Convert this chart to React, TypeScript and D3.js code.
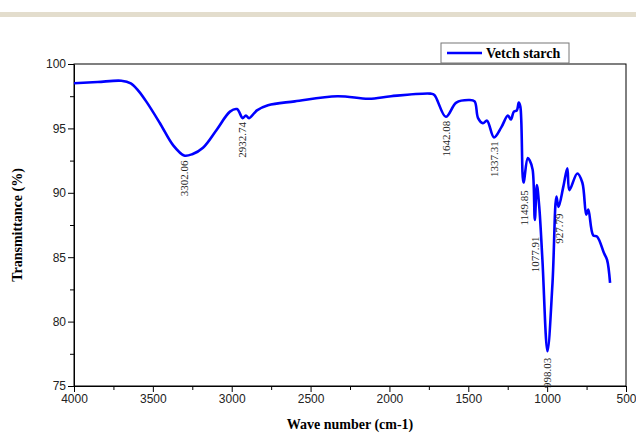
import React, { useEffect, useRef } from 'react';
import * as d3 from 'd3';

// FTIR spectrum (wave number, transmittance %)
const waveNumbers = [
  4000, 3850, 3700, 3640, 3590, 3537, 3455, 3372, 3302, 3250, 3182, 3095, 3011, 2967,
  2930, 2910, 2890, 2840, 2770, 2600, 2330, 2130, 1990, 1740, 1715, 1642, 1576, 1495,
  1460, 1438, 1407, 1381, 1337, 1290, 1249, 1230, 1211, 1192, 1180, 1170, 1150, 1123,
  1110, 1092, 1078, 1065, 1050, 1030, 998, 966, 941, 928, 897, 872, 859, 809, 777, 752,
  739, 708, 683, 639, 620, 601,
];
const transmittance = [
  98.5, 98.6, 98.7, 98.5, 97.9, 97.0, 95.4, 93.7, 92.9, 93.0, 93.5, 94.9, 96.3, 96.5,
  95.8, 96.0, 95.8, 96.4, 96.8, 97.1, 97.5, 97.3, 97.5, 97.7, 97.6, 95.9, 97.0, 97.2,
  97.1, 95.8, 95.4, 95.6, 94.3, 95.1, 96.0, 95.7, 96.3, 96.4, 97.0, 96.7, 90.8, 92.7,
  92.5, 91.8, 87.9, 90.6, 88.9, 84.8, 77.7, 83.0, 89.7, 88.9, 90.5, 91.9, 90.2, 91.5, 90.8, 88.3,
  88.7, 86.7, 86.6, 85.3, 84.8, 83.0,
];

// peak annotations: label, wave number, where the label's top sits (in %)
const peakLabels = ['3302.06', '2932.74', '1642.08', '1337.31', '1149.85', '1077.91', '927.79', '998.03'];
const peakWaves = [3302.06, 2932.74, 1642.08, 1337.31, 1149.85, 1077.91, 927.79, 998.03];
const peakTops = [92.5, 95.5, 95.6, 94.0, 90.2, 86.6, 88.4, 77.2];

const xTicks = [4000, 3500, 3000, 2500, 2000, 1500, 1000, 500];
const yTicks = [75, 80, 85, 90, 95, 100];
const seriesName = 'Vetch starch';

const App = () => {
  const svgRef = useRef<SVGSVGElement>(null);

  useEffect(() => {
    const width = 636;
    const height = 434;
    const left = 74, right = 626, top = 64, bottom = 386;

    const svg = d3.select(svgRef.current);
    svg.selectAll('*').remove();
    svg.attr('width', width).attr('height', height);

    // beige band at the top of the page
    svg.append('rect')
      .attr('x', 0).attr('y', 12).attr('width', width).attr('height', 5)
      .attr('fill', '#e3ddcd');

    const x = d3.scaleLinear().domain([4000, 500]).range([left, right]);
    const y = d3.scaleLinear().domain([75, 100]).range([bottom, top]);

    // frame
    svg.append('rect')
      .attr('x', left).attr('y', top)
      .attr('width', right - left).attr('height', bottom - top)
      .attr('fill', 'none').attr('stroke', '#000').attr('stroke-width', 1);

    const xAxis = svg.append('g')
      .attr('transform', `translate(0, ${bottom})`)
      .call(d3.axisBottom(x).tickValues(xTicks).tickFormat(d3.format('d')).tickSize(6).tickSizeOuter(0));
    svg.append('g')
      .attr('transform', `translate(0, ${bottom})`)
      .call(d3.axisBottom(x).tickValues(d3.range(3750, 500, -500)).tickFormat(() => '').tickSize(4).tickSizeOuter(0))
      .select('.domain').remove();

    const yAxis = svg.append('g')
      .attr('transform', `translate(${left}, 0)`)
      .call(d3.axisLeft(y).tickValues(yTicks).tickSize(6).tickSizeOuter(0));
    svg.append('g')
      .attr('transform', `translate(${left}, 0)`)
      .call(d3.axisLeft(y).tickValues([77.5, 82.5, 87.5, 92.5, 97.5]).tickFormat(() => '').tickSize(4).tickSizeOuter(0))
      .select('.domain').remove();

    [xAxis, yAxis].forEach(g => {
      g.selectAll('text')
        .attr('font-family', '"Liberation Sans", Arial, sans-serif')
        .attr('font-size', 12)
        .attr('fill', '#222');
    });
    xAxis.selectAll('text').attr('dy', '0.85em').attr('y', 7);
    yAxis.selectAll('text').attr('x', -8);

    svg.append('text')
      .attr('x', (left + right) / 2).attr('y', 429)
      .attr('text-anchor', 'middle')
      .attr('font-family', '"Liberation Serif", "Times New Roman", serif')
      .attr('font-weight', 'bold').attr('font-size', 14)
      .text('Wave number (cm-1)');

    svg.append('text')
      .attr('transform', `translate(22, ${(top + bottom) / 2}) rotate(-90)`)
      .attr('text-anchor', 'middle')
      .attr('font-family', '"Liberation Serif", "Times New Roman", serif')
      .attr('font-weight', 'bold').attr('font-size', 14)
      .text('Transmittance (%)');

    // spectrum
    const points = waveNumbers.map((w, i) => [w, transmittance[i]] as [number, number]);
    const line = d3.line<[number, number]>()
      .x(d => x(d[0]))
      .y(d => y(d[1]))
      .curve(d3.curveCatmullRom.alpha(0.5));
    svg.append('path')
      .datum(points)
      .attr('d', line)
      .attr('fill', 'none')
      .attr('stroke', '#0000ff')
      .attr('stroke-width', 2.6)
      .attr('stroke-linejoin', 'round');

    // peak labels
    peakLabels.forEach((lab, i) => {
      svg.append('text')
        .attr('transform', `translate(${x(peakWaves[i]) + 4}, ${y(peakTops[i])}) rotate(-90)`)
        .attr('text-anchor', 'end')
        .attr('font-family', '"Liberation Serif", "Times New Roman", serif')
        .attr('font-size', 11)
        .attr('fill', '#222')
        .text(lab);
    });

    // legend
    const lg = svg.append('g').attr('transform', 'translate(441, 43)');
    lg.append('rect')
      .attr('width', 128).attr('height', 20)
      .attr('fill', '#fff').attr('stroke', '#777').attr('stroke-width', 1);
    lg.append('line')
      .attr('x1', 6).attr('x2', 41).attr('y1', 10).attr('y2', 10)
      .attr('stroke', '#0000ff').attr('stroke-width', 2.6);
    lg.append('text')
      .attr('x', 45).attr('y', 15)
      .attr('font-family', '"Liberation Serif", "Times New Roman", serif')
      .attr('font-weight', 'bold').attr('font-size', 14)
      .text(seriesName);
  }, []);

  return (
    <div style={{ position: 'absolute', left: 0, top: 0, width: 636, height: 434, background: '#fff' }}>
      <svg ref={svgRef} width={636} height={434} style={{ display: 'block' }}></svg>
    </div>
  );
};

export default App;
